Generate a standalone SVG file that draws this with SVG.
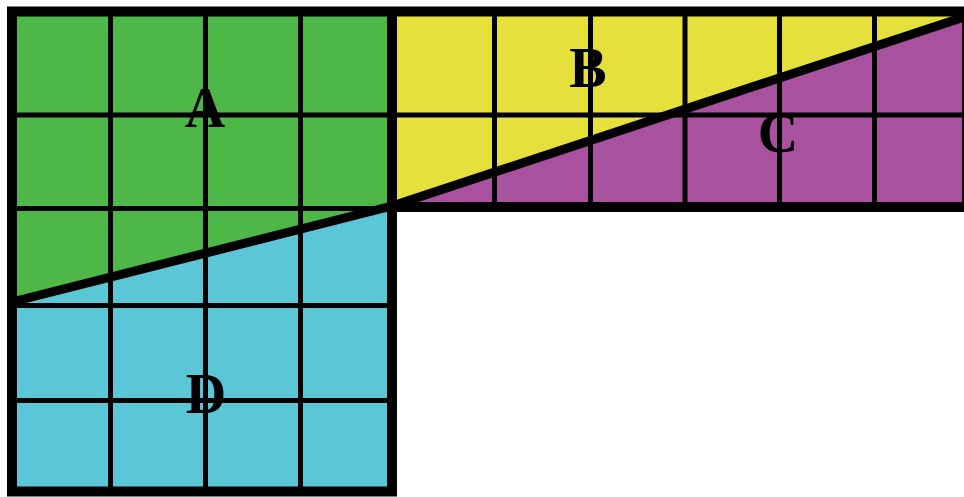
<svg xmlns="http://www.w3.org/2000/svg" width="964" height="497" viewBox="0 0 964 497">
  <style>
    .grid { stroke: #000; stroke-width: 5; fill: none; }
    .cut { stroke: #000; stroke-width: 9; fill: none; stroke-linecap: butt; }
    .border { stroke: #000; stroke-width: 10; fill: none; stroke-linejoin: miter; }
    .lbl { font-family: "Liberation Serif", "Times New Roman", serif; font-weight: bold; font-size: 56px; fill: #000; text-anchor: middle; }
  </style>
  <rect width="964" height="497" fill="#ffffff"/>
  <g id="region-A">
    <polygon points="12,11.5 392,11.5 392,206 12,302" fill="#4db847"/>
  </g>
  <g id="region-D">
    <polygon points="12,302 392,206 392,491.5 12,491.5" fill="#5bc6d6"/>
  </g>
  <g id="region-B">
    <polygon points="392,11.5 967,11.5 967,16 392,206" fill="#e6e03c"/>
  </g>
  <g id="region-C">
    <polygon points="392,206 967,16 967,207 392,207" fill="#a9509f"/>
  </g>
  <g id="grid">
    <line class="grid" x1="110.5" y1="11.5" x2="110.5" y2="491.5"/>
    <line class="grid" x1="205.5" y1="11.5" x2="205.5" y2="491.5"/>
    <line class="grid" x1="300.5" y1="11.5" x2="300.5" y2="491.5"/>
    <line class="grid" x1="12" y1="115" x2="967" y2="115"/>
    <line class="grid" x1="12" y1="208.5" x2="392" y2="208.5"/>
    <line class="grid" x1="12" y1="305.5" x2="392" y2="305.5"/>
    <line class="grid" x1="12" y1="400.5" x2="392" y2="400.5"/>
    <line class="grid" x1="494.5" y1="11.5" x2="494.5" y2="207"/>
    <line class="grid" x1="590.5" y1="11.5" x2="590.5" y2="207"/>
    <line class="grid" x1="685" y1="11.5" x2="685" y2="207"/>
    <line class="grid" x1="779.5" y1="11.5" x2="779.5" y2="207"/>
    <line class="grid" x1="874.5" y1="11.5" x2="874.5" y2="207"/>
  </g>
  <g id="cuts">
    <line class="cut" x1="12" y1="302" x2="392" y2="206"/>
    <line class="cut" x1="392" y1="206" x2="967" y2="16"/>
  </g>
  <g id="border">
    <path class="border" d="M12,11.5 H967 V207 H392 V491.5 H12 Z"/>
    <line class="border" x1="392" y1="11.5" x2="392" y2="207"/>
  </g>
  <g id="labels">
    <text class="lbl" x="205" y="127">A</text>
    <text class="lbl" x="588" y="87">B</text>
    <text class="lbl" x="778" y="152">C</text>
    <text class="lbl" x="206" y="413">D</text>
  </g>
</svg>
